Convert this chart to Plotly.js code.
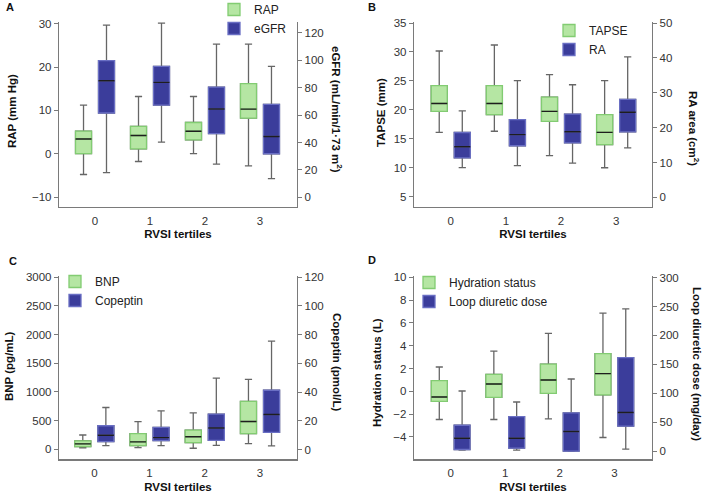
<!DOCTYPE html>
<html>
<head>
<meta charset="utf-8">
<script src="https://cdn.plot.ly/plotly-3.0.1.min.js"></script>
<style>html,body{margin:0;padding:0;background:#fff;}#chart{width:709px;height:496px;}</style>
</head>
<body>
<div id="chart"></div>
<script>
// ---------- DATA ----------
const tertiles = ['0', '1', '2', '3'];

// Panel A
const rapLow = [-4.8, -1.8, 0, -2.8];
const rapQ1 = [0, 1.1, 3.2, 8.2];
const rapMed = [3.4, 4.2, 5.2, 10.3];
const rapQ3 = [5.2, 6.3, 7.2, 16.2];
const rapHigh = [11.2, 13.2, 13.2, 25.3];

const egfrLow = [18, 40.3, 24.3, 13.6];
const egfrQ1 = [61.5, 67.3, 46.4, 31.8];
const egfrMed = [85, 83.8, 64.4, 44.4];
const egfrQ3 = [99.6, 95.5, 80.4, 67.8];
const egfrHigh = [125.6, 127, 111.7, 95.5];

// Panel B
const tapseLow = [16.1, 16.3, 12.1, 10.0];
const tapseQ1 = [19.74, 19.16, 18.0, 13.98];
const tapseMed = [21.1, 21.1, 19.74, 16.1];
const tapseQ3 = [24.17, 24.17, 22.2, 19.16];
const tapseHigh = [30.16, 31.2, 26.07, 25.03];

const raLow = [8.5, 9.1, 9.8, 14.2];
const raQ1 = [11.3, 14.8, 15.6, 18.8];
const raMed = [14.5, 18.0, 18.8, 24.4];
const raQ3 = [18.6, 22.3, 23.9, 28.1];
const raHigh = [24.8, 33.5, 32.3, 40.3];

// Panel C
const bnpLow = [24, 29, 17, 98];
const bnpQ1 = [47, 64, 115, 271];
const bnpMed = [93, 128, 219, 483];
const bnpQ3 = [145, 271, 334, 834];
const bnpHigh = [248, 483, 633, 1219];

const copLow = [2.8, 2.8, 3, 2.6];
const copQ1 = [5.5, 6.2, 6.4, 12];
const copMed = [10, 8.3, 15, 24.4];
const copQ3 = [16.6, 15.5, 24.7, 41.3];
const copHigh = [29.3, 27, 49.8, 75.5];

// Panel D
const hydLow = [-2.48, -2.48, -2.42, -4.06];
const hydQ1 = [-0.88, -0.53, -0.18, -0.32];
const hydMed = [-0.5, 0.64, 0.99, 1.55];
const hydQ3 = [0.93, 1.49, 2.39, 3.3];
const hydHigh = [2.13, 3.53, 5.08, 6.86];

const loopLow = [1.7, 1.7, -0.5, 3.4];
const loopQ1 = [2.9, 5.2, 0, 43.1];
const loopMed = [22.4, 22.4, 34, 66.7];
const loopQ3 = [44.8, 59.8, 66, 161.5];
const loopHigh = [104, 85, 124.7, 246];

// ---------- STYLE ----------
const GREEN_FILL = '#b5e6a3', GREEN_LINE = '#82cc72';
const BLUE_FILL = '#3b3d9b', BLUE_LINE = '#6a6fc4';
const WHISKER = '#666666', MEDIAN = '#1e1e1e';
const FONT = 'Arial, "Liberation Sans", Helvetica, sans-serif';

function series(name, xa, ya, leg, group, fill, line, lo, q1, med, q3, hi) {
  const base = {type: 'box', x: tertiles, xaxis: xa, yaxis: ya, boxpoints: false,
    alignmentgroup: 'al', offsetgroup: group, hoverinfo: 'skip'};
  return [
    Object.assign({}, base, {name: name + ' whiskers', showlegend: false,
      lowerfence: lo, q1: q1, median: med, q3: q3, upperfence: hi,
      fillcolor: 'rgba(0,0,0,0)', whiskerwidth: 0.45, line: {color: WHISKER, width: 1.3}}),
    Object.assign({}, base, {name: name, showlegend: true, legend: leg,
      lowerfence: q1, q1: q1, median: med, q3: q3, upperfence: q3,
      fillcolor: fill, whiskerwidth: 0, line: {color: line, width: 1.3}}),
    Object.assign({}, base, {name: name + ' median', showlegend: false,
      lowerfence: med, q1: med, median: med, q3: med, upperfence: med,
      fillcolor: 'rgba(0,0,0,0)', whiskerwidth: 0, line: {color: MEDIAN, width: 1.4}})
  ];
}

const data = [].concat(
  series('RAP', 'x', 'y', 'legend', 'g', GREEN_FILL, GREEN_LINE, rapLow, rapQ1, rapMed, rapQ3, rapHigh),
  series('eGFR', 'x', 'y2', 'legend', 'b', BLUE_FILL, BLUE_LINE, egfrLow, egfrQ1, egfrMed, egfrQ3, egfrHigh),
  series('TAPSE', 'x2', 'y3', 'legend2', 'g', GREEN_FILL, GREEN_LINE, tapseLow, tapseQ1, tapseMed, tapseQ3, tapseHigh),
  series('RA', 'x2', 'y4', 'legend2', 'b', BLUE_FILL, BLUE_LINE, raLow, raQ1, raMed, raQ3, raHigh),
  series('BNP', 'x3', 'y5', 'legend3', 'g', GREEN_FILL, GREEN_LINE, bnpLow, bnpQ1, bnpMed, bnpQ3, bnpHigh),
  series('Copeptin', 'x3', 'y6', 'legend3', 'b', BLUE_FILL, BLUE_LINE, copLow, copQ1, copMed, copQ3, copHigh),
  series('Hydration status', 'x4', 'y7', 'legend4', 'g', GREEN_FILL, GREEN_LINE, hydLow, hydQ1, hydMed, hydQ3, hydHigh),
  series('Loop diuretic dose', 'x4', 'y8', 'legend4', 'b', BLUE_FILL, BLUE_LINE, loopLow, loopQ1, loopMed, loopQ3, loopHigh)
);

const AX = '#7a7a7a';
const tickFont = {family: FONT, size: 11.5, color: '#333'};
const titleFont = {family: FONT, size: 11.5, color: '#111', weight: 'bold'};

function xaxis(domain, range, anchor) {
  return {domain: domain, range: range, type: 'category', anchor: anchor,
    showline: true, linecolor: AX, linewidth: 1.2, ticks: '', showgrid: false, zeroline: false,
    tickfont: tickFont, fixedrange: true, ticklabelstandoff: 3,
    title: {text: 'RVSI tertiles', font: titleFont, standoff: 4}};
}
function yleft(domain, range, anchor, vals) {
  return {domain: domain, range: range, anchor: anchor, side: 'left',
    showline: true, linecolor: AX, linewidth: 1.2, ticks: 'outside', ticklen: 4, tickcolor: AX,
    tickvals: vals, showgrid: false, zeroline: false, tickfont: tickFont, fixedrange: true};
}
function yright(range, anchor, overlay, vals) {
  return {range: range, anchor: anchor, overlaying: overlay, side: 'right',
    showline: true, linecolor: AX, linewidth: 1.2, ticks: 'outside', ticklen: 4, tickcolor: AX,
    tickvals: vals, showgrid: false, zeroline: false, tickfont: tickFont, fixedrange: true};
}

const top1 = [0.5827, 0.9556], bot = [0.0736, 0.4438];
const leftX = [0.0832, 0.4189], rightX = [0.5839, 0.9196];

function legendAt(x, y) {
  return {x: x, y: y, xanchor: 'left', yanchor: 'top', bgcolor: 'rgba(0,0,0,0)',
    font: {family: FONT, size: 12, color: '#222'}, itemwidth: 30, tracegroupgap: 0,
    itemclick: false, itemdoubleclick: false};
}

function ann(text, x, y, angle, size) {
  return {text: text, x: x, y: y, xref: 'paper', yref: 'paper', showarrow: false,
    xanchor: 'center', yanchor: 'middle', textangle: angle,
    font: {family: FONT, size: size || 11.5, color: '#111', weight: 'bold'}};
}

const layout = {
  width: 709, height: 496, margin: {l: 0, r: 0, t: 0, b: 0, autoexpand: false},
  paper_bgcolor: '#fff', plot_bgcolor: '#fff', font: {family: FONT},
  boxmode: 'group', boxgap: 0.164, boxgroupgap: 0.304,
  xaxis: xaxis(leftX, [-0.655, 3.673], 'y'),
  yaxis: yleft(top1, [-12.3, 30.4], 'x', [-10, 0, 10, 20, 30]),
  yaxis2: yright([-7.0, 127.8], 'x', 'y', [0, 20, 40, 60, 80, 100, 120]),
  xaxis2: xaxis(rightX, [-0.667, 3.65], 'y3'),
  yaxis3: yleft(top1, [3.22, 35.17], 'x2', [5, 10, 15, 20, 25, 30, 35]),
  yaxis4: yright([-2.77, 50.3], 'x2', 'y3', [0, 10, 20, 30, 40, 50]),
  xaxis3: xaxis(leftX, [-0.64, 3.67], 'y5'),
  yaxis5: yleft(bot, [-179, 3023], 'x3', [0, 500, 1000, 1500, 2000, 2500, 3000]),
  yaxis6: yright([-6.9, 120.9], 'x3', 'y5', [0, 20, 40, 60, 80, 100, 120]),
  xaxis4: xaxis(rightX, [-0.673, 3.69], 'y7'),
  yaxis7: yleft(bot, [-5.99, 10.13], 'x4', [-4, -2, 0, 2, 4, 6, 8, 10]),
  yaxis8: yright([-14.4, 302.9], 'x4', 'y7', [0, 50, 100, 150, 200, 250, 300]),
  legend: legendAt(214 / 709, 1 + 5 / 496),
  legend2: legendAt(549 / 709, 1 - 16 / 496),
  legend3: legendAt(55 / 709, 1 - 267 / 496),
  legend4: legendAt(409 / 709, 1 - 268 / 496),
  annotations: [
    ann('A', 10 / 709, 1 - 7 / 496, 0, 11),
    ann('B', 372 / 709, 1 - 7 / 496, 0, 11),
    ann('C', 13 / 709, 1 - 261 / 496, 0, 11),
    ann('D', 372 / 709, 1 - 260 / 496, 0, 11),
    ann('RAP (mm Hg)', 12 / 709, 1 - 111 / 496, -90),
    ann('TAPSE (mm)', 381 / 709, 1 - 113 / 496, -90),
    ann('BNP (pg/mL)', 9 / 709, 1 - 366 / 496, -90),
    ann('Hydration status (L)', 377 / 709, 1 - 372 / 496, -90),
    ann('eGFR (mL/min/1·73 m<sup>2</sup>)', 337 / 709, 1 - 109 / 496, 90),
    ann('RA area (cm<sup>2</sup>)', 694 / 709, 1 - 128 / 496, 90),
    ann('Copeptin (pmol/L)', 337 / 709, 1 - 362 / 496, 90),
    ann('Loop diuretic dose (mg/day)', 697 / 709, 1 - 364 / 496, 90)
  ]
};

Plotly.newPlot('chart', data, layout, {staticPlot: true, displayModeBar: false});
</script>
</body>
</html>
